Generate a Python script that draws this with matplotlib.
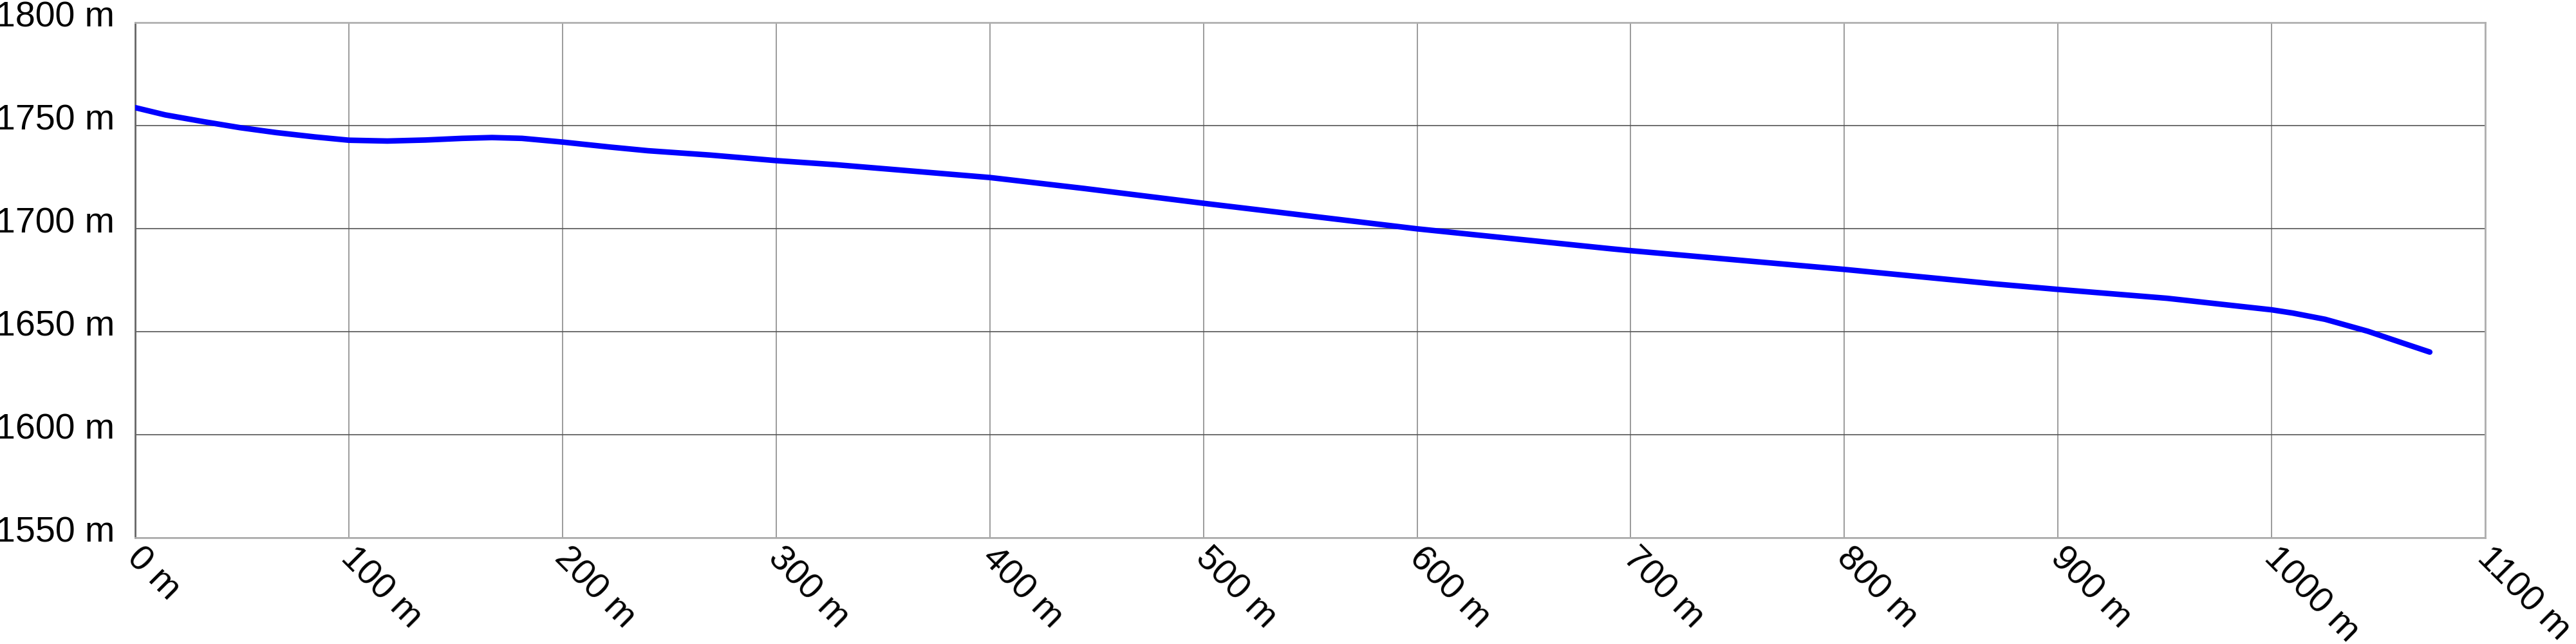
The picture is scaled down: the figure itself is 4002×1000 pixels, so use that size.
import matplotlib
matplotlib.use('Agg')
import matplotlib.pyplot as plt
import matplotlib.transforms as mtransforms

# elevation profile
distance = [0, 14, 32, 49, 66, 84, 100, 118, 136, 153, 167, 181, 200, 222, 240, 269,
            300, 328, 400, 444, 500, 600, 690, 700, 800, 870, 900, 951, 1000, 1010,
            1025, 1045, 1061, 1074]
elevation = [1758.7, 1755.2, 1751.9, 1749.0, 1746.6, 1744.5, 1742.9, 1742.5, 1743.0,
             1743.8, 1744.2, 1743.8, 1742.0, 1739.6, 1737.8, 1735.7, 1733.0, 1731.0,
             1724.8, 1719.5, 1712.3, 1699.9, 1690.3, 1689.3, 1680.2, 1673.2, 1670.5,
             1666.2, 1660.6, 1659.0, 1656.0, 1650.2, 1644.6, 1640.1]

x_ticks = list(range(0, 1101, 100))
y_ticks = list(range(1550, 1801, 50))

plt.rcParams['font.family'] = ['Liberation Sans', 'DejaVu Sans']

fig = plt.figure(figsize=(40.02, 10), dpi=100)
ax = fig.add_axes([0.0525, 0.165, 0.9123, 0.80])

ax.plot(distance, elevation, color='#0000ff', lw=6.2, solid_capstyle='round',
        solid_joinstyle='round', zorder=3)

ax.set_xlim(0, 1100)
ax.set_ylim(1550, 1800)
ax.set_xticks(x_ticks)
ax.set_yticks(y_ticks)
ax.set_xticklabels([f'{v} m' for v in x_ticks])
ax.set_yticklabels([f'{v} m' for v in y_ticks])

ax.grid(True, axis='x', color='#8a8a8a', lw=1.2)
ax.grid(True, axis='y', color='#555555', lw=1.2)
ax.set_axisbelow(True)

ax.tick_params(axis='both', length=0, labelsize=40, labelcolor='black')
ax.tick_params(axis='y', pad=23)
ax.tick_params(axis='x', pad=4)

xoff = mtransforms.ScaledTranslation(14 / 100, 0, fig.dpi_scale_trans)
for lab in ax.get_xticklabels():
    lab.set_rotation(-45)
    lab.set_rotation_mode('anchor')
    lab.set_ha('left')
    lab.set_va('top')
    lab.set_transform(lab.get_transform() + xoff)

yoff = mtransforms.ScaledTranslation(0, -6 / 100, fig.dpi_scale_trans)
for lab in ax.get_yticklabels():
    lab.set_va('baseline')
    lab.set_transform(lab.get_transform() + yoff)

for side in ['top', 'right', 'bottom']:
    ax.spines[side].set_color('#b0b0b0')
    ax.spines[side].set_linewidth(2)
ax.spines['left'].set_color('#666666')
ax.spines['left'].set_linewidth(2)

fig.savefig('out.png', dpi=100, facecolor='white')
